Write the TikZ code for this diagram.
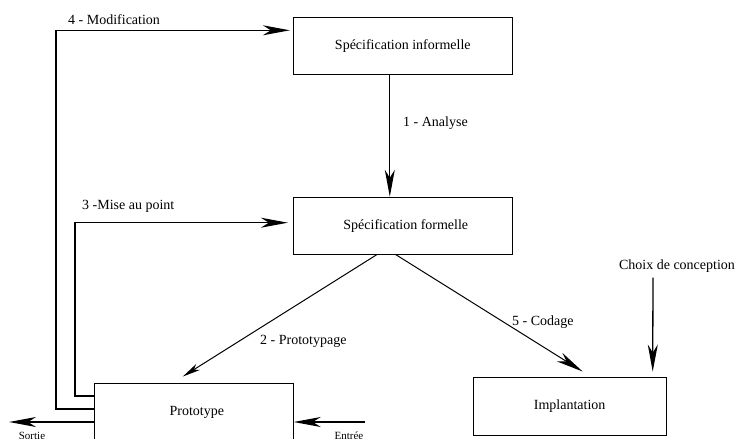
\documentclass[tikz,border=0pt]{standalone}
\usepackage{fontspec}
\setmainfont{Liberation Serif}
\usetikzlibrary{arrows.meta}
\tikzset{
  box/.style={draw, line width=0.9pt, rectangle, inner sep=0pt, font=\fontsize{14}{16}\selectfont},
  lbl/.style={inner sep=0pt, font=\fontsize{14}{16}\selectfont},
  small/.style={inner sep=0pt, font=\fontsize{11}{13}\selectfont},
  conn/.style={line width=1.3pt, -{Stealth[length=27pt,width=10pt,inset=8pt]}},
  thinconn/.style={line width=1pt, -{Stealth[length=18pt,width=7pt,inset=5pt]}},
}
\begin{document}
\begin{tikzpicture}[x=1pt,y=-1pt]
\clip (0,0) rectangle (742,439);
\useasboundingbox (0,0) rectangle (742,439);
% boxes
\node[box, minimum width=219pt, minimum height=57pt] (inf) at (402.8,45.8) {Spécification informelle\hspace{28pt}};
\node[box, minimum width=219pt, minimum height=57pt] (form) at (402.8,225.7) {\hspace{6pt}Spécification formelle};
\node[box, minimum width=199pt, minimum height=58pt] (proto) at (193.8,412) {\hspace{6pt}Prototype};
\node[box, minimum width=193pt, minimum height=58pt] (impl) at (569.7,406) {Implantation\hspace{42pt}};
% free-end coordinates
\coordinate (c3) at (75,222.7);
\coordinate (c4) at (56,30.3);
\coordinate (sortie) at (9,422);
\coordinate (entree) at (365,422);
% connectors
\draw[conn] ([xshift=-13pt]inf.south) -- ([xshift=-13pt]form.north);
\draw[thinconn] ([xshift=-26pt]form.south) -- ([xshift=-11pt,yshift=6pt]proto.north);
\draw[conn, line width=1pt] ([xshift=-7pt]form.south) -- ([xshift=13pt,yshift=5pt]impl.north);
\draw[conn] ([yshift=16pt]proto.west) -| (c3) -- ([xshift=-5pt,yshift=3pt]form.west);
\draw[conn] ([yshift=3pt]proto.west) -| (c4) -- ([xshift=-3pt,yshift=15.5pt]inf.west);
\draw[conn] ([yshift=-10pt]proto.west) -- (sortie);
\draw[conn] (entree) -- ([yshift=-10pt]proto.east);
% choix
\node[lbl] (choix) at (677,266) {Choix de conception};
\draw[conn] (choix.south -| {653,0}) ++(0,5) coordinate (cs) (cs) -- ([xshift=83pt,yshift=5pt]impl.north);
% labels
\node[lbl, anchor=west] (l4) at (68,20) {4 - Modification};
\node[lbl, anchor=west] (l3) at (82,206) {3 -Mise au point};
\node[lbl, anchor=west] (l1) at (403,123) {1 - Analyse};
\node[lbl, anchor=west] (l2) at (260,341) {2 - Prototypage};
\node[lbl, anchor=west] (l5) at (512,322) {5 - Codage};
\node[small, anchor=north] (ls) at (32,432) {Sortie};
\node[small, anchor=north] (le) at (349,432) {Entrée};
\end{tikzpicture}
\end{document}
